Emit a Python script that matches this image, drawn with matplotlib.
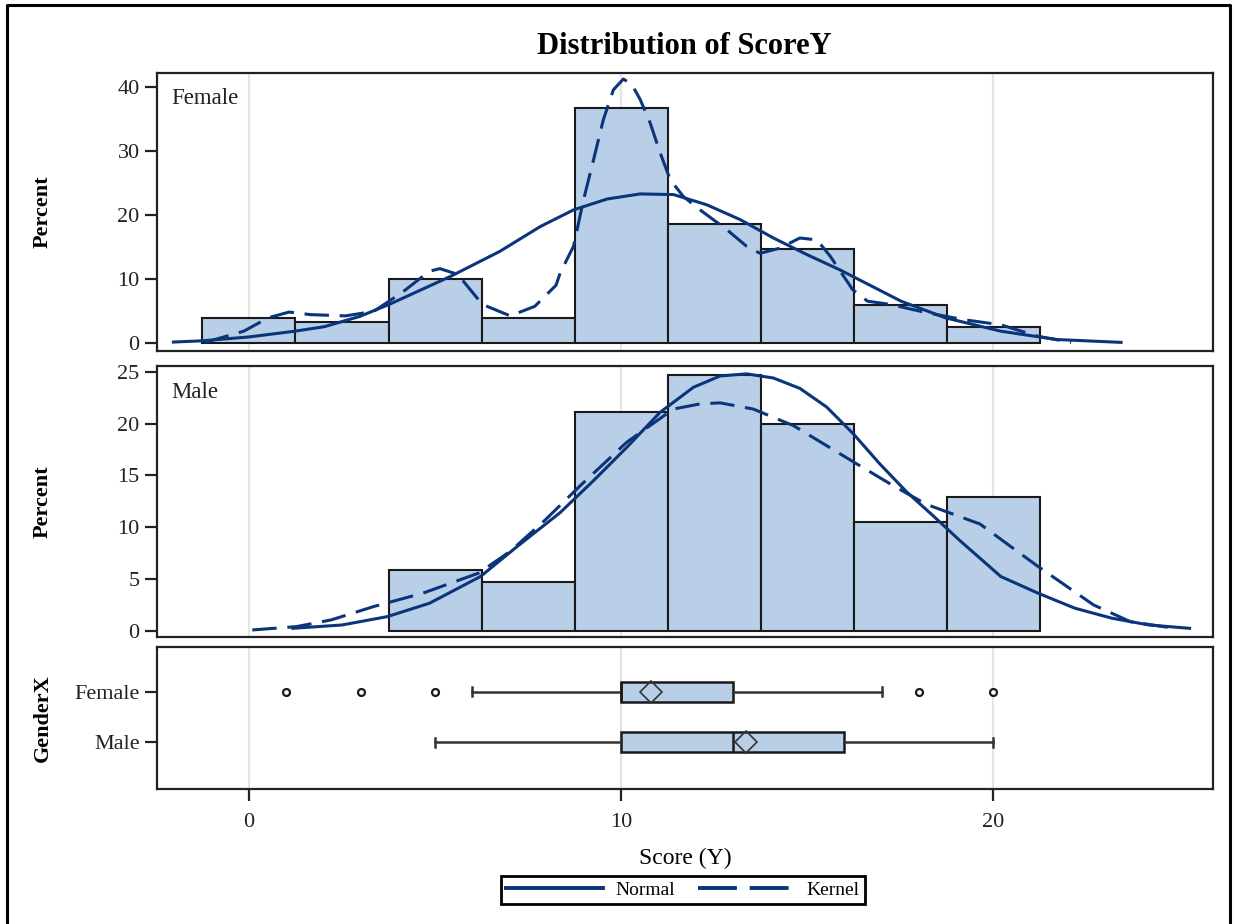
import matplotlib
matplotlib.use("Agg")
from matplotlib import pyplot as plt
from matplotlib.lines import Line2D

plt.rcParams["font.family"] = ["Liberation Serif", "DejaVu Serif"]

# histogram bins (midpoints, width 2.5) and percentages
bin_mids_female = [0, 2.5, 5, 7.5, 10, 12.5, 15, 17.5, 20]
pct_female = [3.9, 3.3, 10.0, 3.9, 36.8, 18.6, 14.6, 5.9, 2.5]
bin_mids_male = [5, 7.5, 10, 12.5, 15, 17.5, 20]
pct_male = [5.85, 4.7, 21.1, 24.7, 20.0, 10.5, 12.9]
bin_width = 2.5

# fitted curves
female_normal_x = [-2.03, -1.24, 0.0, 1.23, 2.02, 2.97, 3.77, 5.42, 6.74, 7.83, 8.72, 9.62,
                   10.51, 11.41, 12.3, 13.19, 14.09, 14.99, 15.88, 17.52, 18.71, 20.2, 21.7,
                   23.43]
female_normal_y = [0.1, 0.3, 0.9, 1.8, 2.5, 4.1, 6.0, 10.4, 14.3, 18.2, 20.8, 22.5,
                   23.3, 23.2, 21.6, 19.3, 16.4, 13.8, 11.4, 6.5, 3.9, 1.8, 0.5,
                   0.05]
female_kernel_x = [-1.18, -0.14, 0.52, 1.08, 1.65, 2.59, 3.35, 4.1, 4.85, 5.13, 5.61, 6.27,
                   7.02, 7.68, 8.25, 8.36, 8.72, 8.99, 9.26, 9.52, 9.79, 10.06, 10.29, 10.51,
                   10.78, 11.05, 11.32, 11.67, 12.12, 12.84, 13.37, 13.73, 14.26, 14.8,
                   15.26, 15.61, 16.22, 16.62, 17.22, 18.21, 19.21, 20.2, 21.2, 22.09]
female_kernel_y = [0.05, 1.8, 3.9, 4.8, 4.4, 4.2, 4.9, 7.8, 11.2, 11.6, 10.7, 6.0,
                   4.2, 5.7, 9.0, 10.9, 15.1, 22.4, 28.7, 34.9, 39.6, 41.3, 40.4, 38.1,
                   34.4, 29.7, 25.5, 22.9, 20.8, 17.7, 15.1, 14.0, 14.8, 16.4,
                   16.1, 13.6, 8.3, 6.5, 6.0, 4.7, 3.6, 2.8, 1.0, 0.05]
male_normal_x = [1.18, 2.5, 3.72, 4.85, 6.22, 7.21, 8.36, 9.26, 10.15, 11.05, 11.94, 12.66,
                 13.37, 14.09, 14.8, 15.52, 16.24, 16.95, 17.67, 18.38, 19.1, 20.2, 21.2,
                 22.19, 23.19, 24.18, 25.27]
male_normal_y = [0.23, 0.55, 1.36, 2.65, 5.23, 8.14, 11.4, 14.5, 17.7, 21.1, 23.5, 24.6,
                 24.8, 24.4, 23.4, 21.6, 19.0, 16.1, 13.4, 11.1, 8.7, 5.23, 3.62,
                 2.17, 1.2, 0.55, 0.23]
male_kernel_x = [0.09, 1.27, 2.21, 3.35, 4.67, 6.17, 7.02, 7.97, 8.9, 10.15, 11.4, 12.12,
                 12.66, 13.55, 14.63, 16.24, 17.31, 18.2, 19.64, 21.2, 22.69, 23.68, 24.87]
male_kernel_y = [0.07, 0.39, 1.04, 2.33, 3.62, 5.56, 7.66, 10.73, 14.0, 18.2, 21.4, 21.9,
                 22.0, 21.4, 19.8, 16.3, 14.0, 12.2, 10.3, 6.2, 2.49, 0.87, 0.23]

# box plot summary
groups = ["Female", "Male"]
box_q1 = [10, 10]
box_med = [10, 13]
box_q3 = [13, 16]
box_whislo = [6, 5]
box_whishi = [17, 20]
box_mean = [10.8, 13.36]
box_fliers = [[1, 3, 5, 18, 20], []]

x_ticks = [0, 10, 20]

LINE = "#0B357A"
FILL = "#B9CFE8"
EDGE = "#1A1A1A"
FRAME = "#222222"
GRID = "#E4E4E4"
W, H = 1235, 924

fig = plt.figure(figsize=(W / 100, H / 100), dpi=100)


def panel(top, bottom):
    ax = fig.add_axes([157 / W, 1 - bottom / H, (1213 - 157) / W, (bottom - top) / H])
    ax.set_xlim(-2.47, 25.9)
    for s in ax.spines.values():
        s.set_color(FRAME)
        s.set_linewidth(1.6)
    ax.set_xticks(x_ticks)
    ax.grid(axis="x", color=GRID, linewidth=1.5)
    ax.set_axisbelow(True)
    ax.tick_params(axis="y", direction="out", length=8.5, width=1.6, pad=4,
                   labelsize=16, colors=FRAME)
    return ax


dash = (0, (8, 3.5))

ax1 = panel(73, 351)
ax1.bar(bin_mids_female, pct_female, width=bin_width, color=FILL, edgecolor=EDGE, linewidth=1.5)
ax1.plot(female_normal_x, female_normal_y, color=LINE, lw=2.2)
ax1.plot(female_kernel_x, female_kernel_y, color=LINE, lw=2.2, linestyle=dash)
ax1.set_ylim(-1.3, 42.24)
ax1.set_yticks([0, 10, 20, 30, 40])
ax1.tick_params(axis="x", length=0, labelbottom=False)
ax1.text(0.0133, 0.91, "Female", transform=ax1.transAxes, fontsize=16.5, va="center", color=FRAME)
ax1.set_ylabel("Percent", fontsize=16, fontweight="bold")
ax1.yaxis.set_label_coords(-0.0985, 0.5)

ax2 = panel(366, 637)
ax2.bar(bin_mids_male, pct_male, width=bin_width, color=FILL, edgecolor=EDGE, linewidth=1.5)
ax2.plot(male_normal_x, male_normal_y, color=LINE, lw=2.2)
ax2.plot(male_kernel_x, male_kernel_y, color=LINE, lw=2.2, linestyle=dash)
ax2.set_ylim(-0.61, 25.56)
ax2.set_yticks([0, 5, 10, 15, 20, 25])
ax2.tick_params(axis="x", length=0, labelbottom=False)
ax2.text(0.0133, 0.904, "Male", transform=ax2.transAxes, fontsize=16.5, va="center", color=FRAME)
ax2.set_ylabel("Percent", fontsize=16, fontweight="bold")
ax2.yaxis.set_label_coords(-0.0985, 0.5)

ax3 = panel(647, 789)
stats = []
for i, g in enumerate(groups):
    stats.append(dict(label=g, q1=box_q1[i], med=box_med[i], q3=box_q3[i],
                      whislo=box_whislo[i], whishi=box_whishi[i],
                      mean=box_mean[i], fliers=box_fliers[i]))
ax3.bxp(stats, positions=[0, 1], widths=0.39, orientation="horizontal", showmeans=True,
        capwidths=0.18, patch_artist=True,
        boxprops=dict(facecolor=FILL, edgecolor=EDGE, linewidth=1.8),
        medianprops=dict(color=EDGE, linewidth=1.8),
        whiskerprops=dict(color="#333333", linewidth=1.8),
        capprops=dict(color="#333333", linewidth=1.8),
        meanprops=dict(marker="D", markerfacecolor="none", markeredgecolor="#333333",
                       markersize=11, markeredgewidth=1.2),
        flierprops=dict(marker="o", markerfacecolor="white", markeredgecolor=EDGE,
                        markersize=5, markeredgewidth=1.6))
ax3.set_ylim(1.926, -0.888)
ax3.set_yticks([0, 1])
ax3.set_yticklabels(groups)
ax3.set_xlim(-2.47, 25.9)
ax3.set_xticks(x_ticks)
ax3.tick_params(axis="x", direction="out", length=8.5, width=1.6, pad=9,
                labelsize=16, colors=FRAME)
ax3.set_ylabel("GenderX", fontsize=16, fontweight="bold")
ax3.yaxis.set_label_coords(-0.0985, 0.5)

fig.text(685 / W, 1 - 858 / H, "Score (Y)", fontsize=17, ha="center", va="center")
fig.text(684 / W, 1 - 46 / H, "Distribution of ScoreY", fontsize=22, fontweight="bold",
         ha="center", va="center")

handles = [Line2D([], [], color=LINE, lw=2.8),
           Line2D([], [], color=LINE, lw=2.8, linestyle=(0, (10, 3.3)))]
leg = fig.legend(handles, ["Normal", "Kernel"], loc="center",
                 bbox_to_anchor=(683 / W, 1 - 890 / H), ncol=2, fontsize=14,
                 frameon=True, fancybox=False, edgecolor="black", framealpha=1,
                 handlelength=5.0, handletextpad=0.6, columnspacing=1.2,
                 borderpad=0.25, borderaxespad=0)
leg.get_frame().set_linewidth(2)

# outer border (open at the bottom, as in the picture)
fig.add_artist(Line2D([7 / W, 7 / W, 1230 / W, 1230 / W], [0, 1 - 5 / H, 1 - 5 / H, 0],
                      color="black", lw=2.2, transform=fig.transFigure))

fig.savefig("out.png", dpi=100)
